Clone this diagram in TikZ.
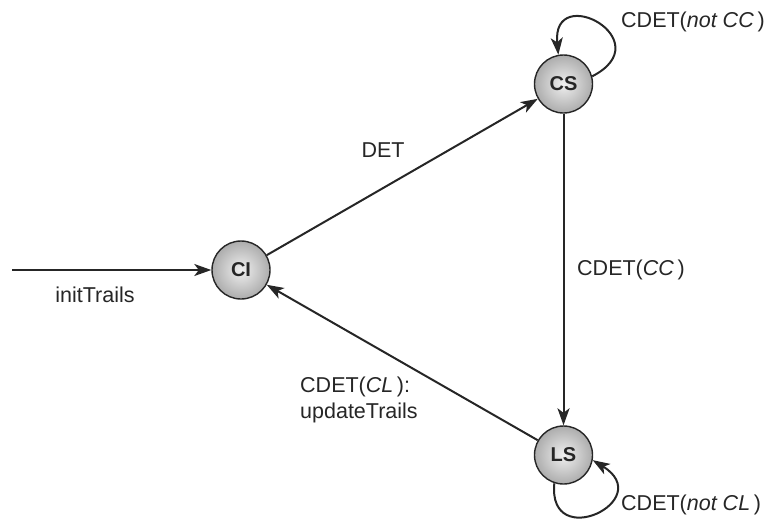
\documentclass[tikz,border=0pt]{standalone}
\usepackage{fontspec}
\setmainfont{Liberation Sans}
\usetikzlibrary{arrows.meta,shadings}
\begin{document}
\begin{tikzpicture}[x=1pt,y=-1pt,
  state/.style={circle, draw=black!85, line width=1.4pt, minimum size=58pt, inner sep=0pt,
    inner color=gray!12, outer color=gray!65, font=\fontsize{20}{24}\selectfont\bfseries, text=black!85},
  edge/.style={line width=2pt, draw=black!85, -{Stealth[length=17pt,width=12pt,inset=4.5pt]}},
  lbl/.style={font=\fontsize{21.5}{26}\selectfont, text=black!85, inner sep=0pt}]
\useasboundingbox (0,0) rectangle (775,520);
\node[state] (CI) at (241,270) {CI};
\node[state] (CS) at (563.5,84) {CS};
\node[state] (LS) at (563.5,455) {LS};
\coordinate (start) at (12,270);
\draw[edge] (start) -- (CI);
\draw[edge] (CI) -- (CS);
\draw[edge] (CS) -- (LS);
\draw[edge] (LS) -- (CI);
\draw[edge] (CS.15) .. controls +(70,-36) and +(-7,-74) .. (CS.100);
\draw[edge] (LS.252) .. controls +(-7,70) and +(65,40) .. (LS.350);
\node[lbl] (l1) at (95,295) {initTrails};
\node[lbl] (l2) at (383,150) {DET};
\node[lbl, anchor=west] (l3) at (577,270) {CDET(\textit{CC}\,)};
\node[lbl, anchor=north west, align=left] (l4) at (300,377) {CDET(\textit{CL}\,):\\updateTrails};
\node[lbl, anchor=west] (l5) at (621,22) {CDET(\textit{not CC}\,)};
\node[lbl, anchor=west] (l6) at (621,505) {CDET(\textit{not CL}\,)};
\end{tikzpicture}
\end{document}
